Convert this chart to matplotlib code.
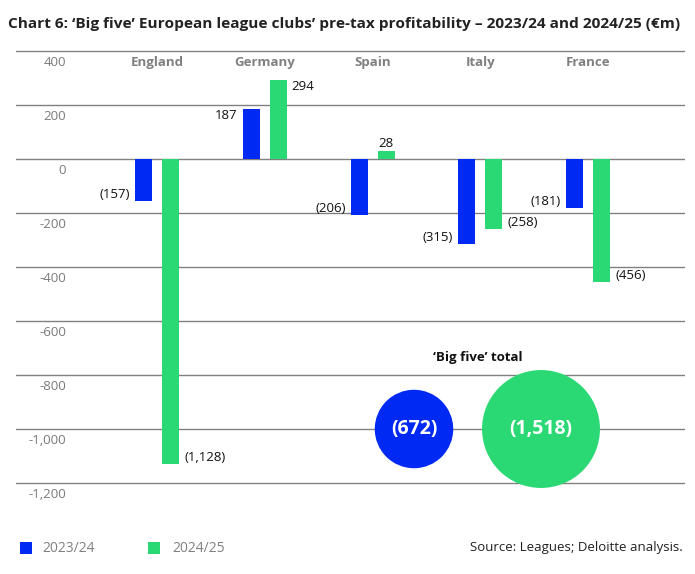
import matplotlib
matplotlib.use("Agg")
import matplotlib.pyplot as plt
import matplotlib.transforms as mtransforms
import numpy as np

plt.rcParams['font.family'] = ['Open Sans', 'DejaVu Sans']

# ---- data ----
categories = ["England", "Germany", "Spain", "Italy", "France"]
series_names = ["2023/24", "2024/25"]
values_2324 = [-157, 187, -206, -315, -181]
values_2425 = [-1128, 294, 28, -258, -456]
totals = [-672, -1518]
yticks = [400, 200, 0, -200, -400, -600, -800, -1000, -1200]

title = "Chart 6: \u2018Big five\u2019 European league clubs\u2019 pre-tax profitability \u2013 2023/24 and 2024/25 (\u20acm)"
source = "Source: Leagues; Deloitte analysis."
total_title = "\u2018Big five\u2019 total"

BLUE = "#0029F4"
GREEN = "#2AD974"
GRID = "#808080"
TICKC = "#7a7a7a"

def fmt(v):
    return f"({abs(v):,})" if v < 0 else f"{v:,}"

W, H = 695, 574
fig = plt.figure(figsize=(W / 100, H / 100), dpi=100)

# axes in pixel coords: x 16..685, y: 400 at 51, -1200 at 483
px_per_unit = (483 - 51) / 1600.0
y_top_px = 40
y_bot_px = 505
ymax = 400 + (51 - y_top_px) / px_per_unit
ymin = -1200 - (y_bot_px - 483) / px_per_unit
ax = fig.add_axes([16 / W, 1 - y_bot_px / H, (685 - 16) / W, (y_bot_px - y_top_px) / H])
ax.set_ylim(ymin, ymax)

cat_step = 107.75
x0_px = 157
xmin = (16 - x0_px) / cat_step
xmax = (685 - x0_px) / cat_step
ax.set_xlim(xmin, xmax)

for s in ax.spines.values():
    s.set_visible(False)
ax.set_xticks([])
ax.set_yticks([])

trans_y = mtransforms.blended_transform_factory(ax.transAxes, ax.transData)
for t in yticks:
    ax.axhline(t, color=GRID, lw=1.0, zorder=1)
    lab = f"{t:,}"
    ax.text(50 / (685 - 16), t, lab, transform=trans_y + mtransforms.ScaledTranslation(0, -5 / 100, fig.dpi_scale_trans),
            ha='right', va='top', fontsize=9.5, color=TICKC)

x = np.arange(len(categories))
bw = 17 / cat_step
off = 13.5 / cat_step
ax.bar(x - off, values_2324, width=bw, color=BLUE, zorder=2, label=series_names[0])
ax.bar(x + off, values_2425, width=bw, color=GREEN, zorder=2, label=series_names[1])

for i, c in enumerate(categories):
    ax.text(i, 400, c, transform=ax.transData + mtransforms.ScaledTranslation(0, -5 / 100, fig.dpi_scale_trans),
            ha='center', va='top', fontsize=9.5, color="#808080", fontweight='bold')

gap = 5 / cat_step
for i, v in enumerate(values_2324):
    va = 'top' if v > 0 else 'bottom'
    ax.text(i - off - bw / 2 - gap, v, fmt(v), ha='right', va=va, fontsize=9.5, color="#111111", zorder=3)
for i, v in enumerate(values_2425):
    if abs(v) < 60:
        ax.text(i + off, v + 6, fmt(v), ha='center', va='bottom', fontsize=9.5, color="#111111", zorder=3)
    else:
        va = 'top' if v > 0 else 'bottom'
        ax.text(i + off + bw / 2 + gap, v, fmt(v), ha='left', va=va, fontsize=9.5, color="#111111", zorder=3)

# Big five total bubbles
bx = [(414 - x0_px) / cat_step, (541 - x0_px) / cat_step]
by = -1000
sizes = [abs(v) * 4.75 for v in totals]
ax.scatter(bx, [by, by], s=sizes, c=[BLUE, GREEN], zorder=3, linewidths=0)
for xx, v in zip(bx, totals):
    ax.text(xx, by, fmt(v), ha='center', va='center', fontsize=14, color='white', fontweight='bold', zorder=4)
ax.text((bx[0] + bx[1]) / 2, by + 265, total_title, ha='center', va='center', fontsize=9.5,
        fontweight='bold', color='#111111')

# title
fig.text(8 / W, 1 - 24 / H, title, ha='left', va='center', fontsize=11.1, fontweight='bold', color='#222222')

# legend
leg_y = 1 - 548 / H
for (lx, col, name, tx) in [(20, BLUE, series_names[0], 42), (148, GREEN, series_names[1], 172)]:
    fig.patches.append(plt.Rectangle((lx / W, 1 - 554 / H), 12 / W, 12 / H, transform=fig.transFigure,
                                     facecolor=col, edgecolor='none'))
    fig.text(tx / W, leg_y, name, ha='left', va='center', fontsize=10, color='#808080')
fig.text(683 / W, leg_y, source, ha='right', va='center', fontsize=9.5, color='#222222')

fig.savefig("out.png", dpi=100, facecolor='white')
